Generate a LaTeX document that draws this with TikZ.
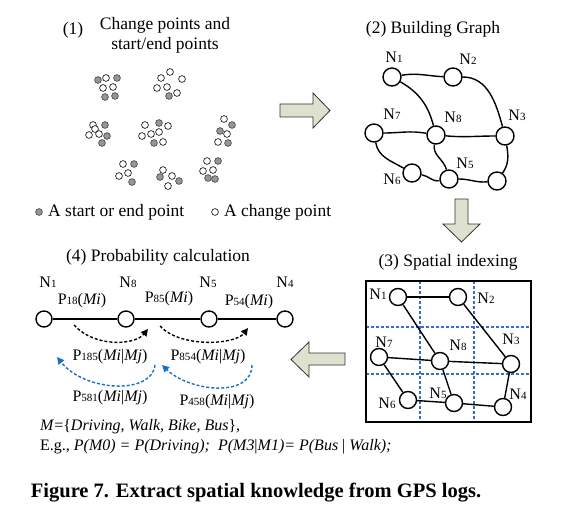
\documentclass[tikz,border=0pt]{standalone}
\usepackage{fontspec}
\setmainfont{Liberation Serif}
\usetikzlibrary{arrows.meta}
\definecolor{arrfill}{RGB}{221,225,205}
\definecolor{dotgray}{RGB}{150,150,150}
\definecolor{gridblue}{RGB}{55,110,200}
\definecolor{arrblue}{RGB}{20,112,200}
\newcommand{\nsub}[1]{{\fontsize{11}{11}\selectfont #1}}
\newcommand{\plab}[2]{P\nsub{#1}(#2)}
\begin{document}
\begin{tikzpicture}[x=1pt,y=-1pt,
  vtx/.style={circle,draw,line width=1.4pt,minimum size=18pt,inner sep=0pt,fill=white},
  vtxs/.style={vtx,minimum size=17pt},
  vtxp/.style={vtx,minimum size=16pt},
  edge/.style={line width=1.4pt},
  lbl/.style={inner sep=0pt,font=\fontsize{16}{16}\selectfont},
  ttl/.style={inner sep=0pt,font=\fontsize{17.5}{20}\selectfont},
  txt/.style={inner sep=0pt,font=\fontsize{16}{18}\selectfont},
  bigarrow/.style={draw=black!80,line width=0.8pt,fill=arrfill},
  gdot/.style={circle,draw=black!75,line width=0.6pt,fill=dotgray,minimum size=6.8pt,inner sep=0pt},
  wdot/.style={circle,draw=black,line width=0.6pt,fill=white,minimum size=6.8pt,inner sep=0pt},
  grid line/.style={gridblue,line width=1.1pt,dash pattern=on 3pt off 2pt},
  blkarr/.style={line width=1.4pt,dash pattern=on 3pt off 2pt,-{Triangle[length=7pt,width=7pt]}},
  bluarr/.style={arrblue,line width=1.4pt,dash pattern=on 3pt off 2pt,-{Triangle[length=7pt,width=7pt]}}
]
\useasboundingbox (0,0) rectangle (577,513);

% ---------- Panel 1 ----------
\node[ttl] (t1n) at (73,30) {(1)};
\node[ttl,align=center] (t1) at (165,35) {Change points and\\start/end points};
\foreach \x/\y [count=\i] in {98/80,117/78,105/97,115/96,169/96,105/125,107/136,102/143,159/123,154/143,232/125,220/131,228/143,134/164,132/182,160/177,179/181,218/161,208/178,215/179}
  \node[gdot] (g\i) at (\x,\y) {};
\foreach \x/\y [count=\i] in {106/78,103/88,113/87,161/78,170/72,182/79,157/88,167/87,177/93,93/125,95/129,89/135,99/134,145/125,168/126,142/136,151/134,159/132,163/142,224/119,227/134,218/142,123/164,119/176,128/173,163/170,172/176,168/186,207/161,203/171,213/170}
  \node[wdot] (w\i) at (\x,\y) {};
\node[gdot] (lg) at (39,212) {};
\node[ttl,anchor=west] (lgt) at (48,212) {A start or end point};
\node[wdot] (lw) at (215,212) {};
\node[ttl,anchor=west] (lwt) at (224,212) {A change point};

% ---------- Big arrows ----------
\draw[bigarrow] (280,104) -- (313,104) -- (313,93) -- (330,110.5) -- (313,128) -- (313,117) -- (280,117) -- cycle;
\draw[bigarrow] (455,199) -- (468,199) -- (468,224) -- (480,224) -- (461.5,242) -- (443,224) -- (455,224) -- cycle;
\draw[bigarrow] (345,353) -- (309,353) -- (309,342) -- (291,359.5) -- (309,377) -- (309,365) -- (345,365) -- cycle;

% ---------- Panel 2 ----------
\node[ttl] (t2) at (433,29) {(2) Building Graph};
\node[vtx] (a1) at (392,77) {};
\node[vtx] (a2) at (453,77) {};
\node[vtx] (a3) at (505,136) {};
\node[vtx] (a7) at (374,133) {};
\node[vtx] (a8) at (436,135) {};
\node[vtx] (a6) at (412,173) {};
\node[vtx] (a5) at (449,179) {};
\node[vtx] (a4) at (497,181) {};
\node[lbl] (la1) at (394,57) {N\nsub{1}};
\node[lbl] (la2) at (468,59) {N\nsub{2}};
\node[lbl] (la3) at (517,115) {N\nsub{3}};
\node[lbl] (la7) at (392,114) {N\nsub{7}};
\node[lbl] (la8) at (453,117) {N\nsub{8}};
\node[lbl] (la6) at (392,179) {N\nsub{6}};
\node[lbl] (la5) at (465,163) {N\nsub{5}};
\draw[edge] (a1) to[out=10,in=178] (a2);
\draw[edge] (a1) to[out=-30,in=105] (a8);
\draw[edge] (a2) to[out=0,in=105] (a3);
\draw[edge] (a7) to[out=0,in=170] (a8);
\draw[edge] (a8) to[out=-5,in=180] (a3);
\draw[edge] (a7) to[out=-80,in=150] (a6);
\draw[edge] (a8) to[out=-100,in=105] (a5);
\draw[edge] (a6) to[out=-10,in=190] (a5);
\draw[edge] (a5) to[out=0,in=185] (a4);
\draw[edge] (a3) to[out=-80,in=55] (a4);

% ---------- Panel 3 ----------
\node[ttl] (t3) at (448,262) {(3) Spatial indexing};
\draw[grid line] (420,281) -- (420,422);
\draw[grid line] (474,281) -- (474,422);
\draw[grid line] (366,327) -- (531,327);
\draw[grid line] (366,374) -- (531,374);
\draw[line width=1.5pt] (366,281) rectangle (531,422);
\node[vtxs] (b1) at (398,297) {};
\node[vtxs] (b2) at (458,297) {};
\node[vtxs] (b8) at (440,361) {};
\node[vtxs] (b7) at (379,357) {};
\node[vtxs] (b3) at (511,364) {};
\node[vtxs] (b6) at (408,400) {};
\node[vtxs] (b5) at (454,403) {};
\node[vtxs] (b4) at (503,407) {};
\node[lbl] (lb1) at (378,294) {N\nsub{1}};
\node[lbl] (lb2) at (486,298) {N\nsub{2}};
\node[lbl] (lb7) at (384,342) {N\nsub{7}};
\node[lbl] (lb8) at (458,345) {N\nsub{8}};
\node[lbl] (lb3) at (511,339) {N\nsub{3}};
\node[lbl] (lb5) at (438,393) {N\nsub{5}};
\node[lbl] (lb4) at (518,394) {N\nsub{4}};
\node[lbl] (lb6) at (387,403) {N\nsub{6}};
\draw[edge] (b1) -- (b2);
\draw[edge] (b1) -- (b8);
\draw[edge] (b2) -- (b3);
\draw[edge] (b7) -- (b8);
\draw[edge] (b8) -- (b3);
\draw[edge] (b7) -- (b6);
\draw[edge] (b8) -- (b5);
\draw[edge] (b6) -- (b5);
\draw[edge] (b5) -- (b4);
\draw[edge] (b4) -- (b3);

% ---------- Panel 4 ----------
\node[ttl] (t4) at (158,257) {(4) Probability calculation};
\node[vtxp] (c1) at (44,319) {};
\node[vtxp] (c8) at (126,319) {};
\node[vtxp] (c5) at (209,319) {};
\node[vtxp] (c4) at (285,319) {};
\draw[edge] (c1) -- (c8);
\draw[edge] (c8) -- (c5);
\draw[edge] (c5) -- (c4);
\node[lbl] (lc1) at (48,282) {N\nsub{1}};
\node[lbl] (lc8) at (128,282) {N\nsub{8}};
\node[lbl] (lc5) at (208,282) {N\nsub{5}};
\node[lbl] (lc4) at (285,282) {N\nsub{4}};
\node[lbl] (p18) at (82,301) {\plab{18}{\textit{Mi}}};
\node[lbl] (p85) at (169,299) {\plab{85}{\textit{Mi}}};
\node[lbl] (p54) at (249,302) {\plab{54}{\textit{Mi}}};
\node[lbl] (p185) at (110,357) {\plab{185}{\textit{Mi}|\textit{Mj}}};
\node[lbl] (p854) at (208,357) {\plab{854}{\textit{Mi}|\textit{Mj}}};
\node[lbl] (p581) at (110,398) {\plab{581}{\textit{Mi}|\textit{Mj}}};
\node[lbl] (p458) at (217,402) {\plab{458}{\textit{Mi}|\textit{Mj}}};
\coordinate (k1s) at (74,325);
\coordinate (k1e) at (148,329);
\coordinate (k2s) at (160,326);
\coordinate (k2e) at (248,328);
\coordinate (u1s) at (155,365);
\coordinate (u1e) at (57,357);
\coordinate (u2s) at (252,365);
\coordinate (u2e) at (162,365);
\draw[blkarr] (k1s) .. controls (95,348) and (135,345) .. (k1e);
\draw[blkarr] (k2s) .. controls (180,348) and (235,345) .. (k2e);
\draw[bluarr] (u1s) .. controls (152,395) and (85,392) .. (u1e);
\draw[bluarr] (u2s) .. controls (252,398) and (190,392) .. (u2e);

% ---------- Bottom text ----------
\node[txt,anchor=west] (m) at (40,427) {\textit{M}=\{\textit{Driving, Walk, Bike, Bus}\},};
\node[txt,anchor=west] (eg) at (40,447) {E.g., \textit{P(M0) = P(Driving);\ \ P(M3}|\textit{M1)= P(Bus} | \textit{Walk);}};
\node[inner sep=0pt,font=\bfseries\fontsize{20.5}{22}\selectfont] (cap) at (256,493) {Figure 7. Extract spatial knowledge from GPS logs.};
\end{tikzpicture}
\end{document}
